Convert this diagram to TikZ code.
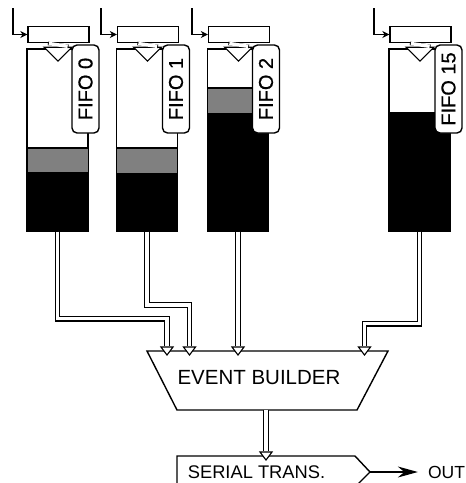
\documentclass[tikz,border=0pt]{standalone}
\usepackage{fontspec}
\setmainfont{Liberation Sans}
\newfontfamily\tagfont[RawFeature={embolden=0.8}]{Liberation Sans}
\usetikzlibrary{positioning,arrows.meta,shapes.geometric,calc}
\tikzset{
  >={Stealth[length=7pt,width=7pt]},
  fifo/.style={draw=black,fill=white,line width=1.2pt,minimum width=61pt,minimum height=182pt,inner sep=0pt},
  regbox/.style={draw=black,fill=white,line width=1.4pt,minimum width=61pt,minimum height=16pt,inner sep=0pt},
  tag/.style={draw=black,fill=white,rounded corners=5pt,line width=1.4pt,rotate=90,minimum width=88pt,
    minimum height=27pt,inner sep=0pt,font=\fontsize{20}{20}\tagfont},
  vee/.style={isosceles triangle,isosceles triangle stretches,shape border rotate=-90,draw=black,fill=white,
    line width=1.1pt,inner sep=0pt},
  bigvee/.style={vee,minimum width=28pt,minimum height=14pt},
  smallvee/.style={vee,minimum width=12pt,minimum height=8pt},
  bus/.style={draw=black,line width=1.1pt,double=white,double distance=3.6pt},
  stub/.style={draw=black,line width=0.9pt,double=white,double distance=19pt},
  flow/.style={->,draw=black,line width=1.1pt},
  lbl/.style={inner sep=0pt},
}
\begin{document}
\begin{tikzpicture}[x=1pt,y=-1pt]
  \useasboundingbox (0,0) rectangle (466,483);
  \clip (0,0) rectangle (466,483);
  % fifo columns
  \foreach \k/\x/\in/\gtop/\btop/\t/\tx in {0/57.5/13/148/172/FIFO 0/85.5,
                                      1/147/101/148/173/FIFO 1/176,
                                      2/238/192/88/113/FIFO 2/266,
                                      15/419.5/374/113/113/FIFO 15/448.5}{
    \node[fifo] (fifo\k) at (\x,140) {};
    \fill[black!50] (\x-30,\gtop) rectangle (\x+30,\btop);
    \draw[line width=1.2pt] (\x-30.5,\gtop) -- (\x+30.5,\gtop);
    \fill[black] (\x-30.5,\btop) rectangle (\x+30.5,231);
    \node[regbox] (reg\k) at (\x+1,34.5) {};
    \node[bigvee] (vee\k) at (\x+0.5,53) {};
    \draw[stub] (reg\k.south) -- (vee\k.north);
    \node[tag] (tag\k) at (\tx,89) {\t};
    \coordinate (clk\k) at (\in,8);
    \draw[flow] (clk\k) |- (reg\k.west);
  }
  % event builder
  \node[lbl,font=\fontsize{20.5}{20.5}\selectfont] (evb) at (259,378) {EVENT BUILDER};
  \draw[line width=1.4pt] (147,351) -- (388,351) -- (357,410) -- (177,410) -- cycle;
  \coordinate (evbout) at (266,410);
  \foreach \k/\x in {0/167,1/189.5,2/238,15/364.5}{
    \node[smallvee] (in\k) at (\x,350) {};
  }
  % fifo -> event builder
  \draw[bus] (fifo0.south) -- ++(0,87) -| (in0.north);
  \draw[bus] (fifo1.south) -- ++(0,73.5) -| (in1.north);
  \draw[bus] (fifo2.south) -- (in2.north);
  \draw[bus] (fifo15.south) -- ++(0,92) -| (in15.north);
  % serial transmitter
  \node[lbl,font=\fontsize{18.3}{18.3}\selectfont] (ser) at (256.5,472) {SERIAL TRANS.};
  \draw[line width=1.4pt] (177,490) -- (177,456) -- (355,456) -- (370,472) -- (352,490);
  \coordinate (sertip) at (370,472);
  \node[smallvee] (inser) at (266,455) {};
  \draw[bus] (evbout) -- (inser.north);
  \node[lbl,font=\fontsize{17.5}{17.5}\selectfont] (out) at (446.5,472) {OUT};
  \draw[-{Stealth[length=20pt,width=11pt]},line width=1.2pt] (sertip) -- ($(out.west)+(-10,0)$);
\end{tikzpicture}
\end{document}
